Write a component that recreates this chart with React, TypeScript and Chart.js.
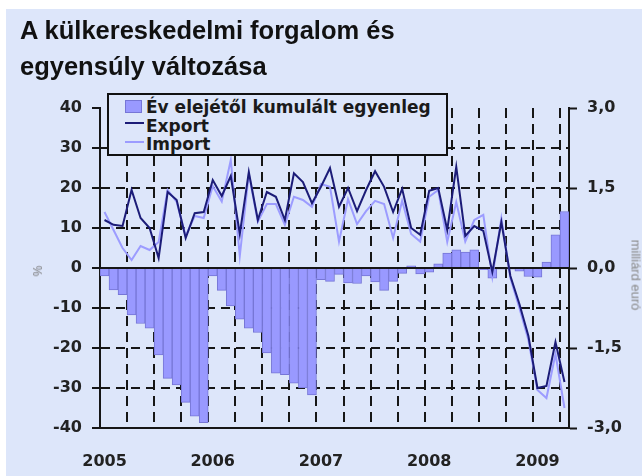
import React, { useEffect, useRef } from 'react';
import { Chart, registerables } from 'chart.js';

Chart.register(...registerables);

const categories = [
  '2005.01', '2005.02', '2005.03', '2005.04', '2005.05', '2005.06', '2005.07', '2005.08', '2005.09', '2005.10', '2005.11', '2005.12',
  '2006.01', '2006.02', '2006.03', '2006.04', '2006.05', '2006.06', '2006.07', '2006.08', '2006.09', '2006.10', '2006.11', '2006.12',
  '2007.01', '2007.02', '2007.03', '2007.04', '2007.05', '2007.06', '2007.07', '2007.08', '2007.09', '2007.10', '2007.11', '2007.12',
  '2008.01', '2008.02', '2008.03', '2008.04', '2008.05', '2008.06', '2008.07', '2008.08', '2008.09', '2008.10', '2008.11', '2008.12',
  '2009.01', '2009.02', '2009.03', '2009.04',
];

const yearTicks = ['2005', '2006', '2007', '2008', '2009'];

// cumulative balance since start of year, billion EUR (right axis)
const balance = [
  -0.15, -0.41, -0.5, -0.88, -1.04, -1.13, -1.63, -2.07, -2.19, -2.52, -2.78, -2.9,
  -0.15, -0.42, -0.71, -0.96, -1.13, -1.21, -1.59, -1.97, -2.0, -2.16, -2.25, -2.38,
  -0.22, -0.25, -0.12, -0.28, -0.29, -0.15, -0.26, -0.42, -0.25, -0.1, 0.04, -0.11,
  -0.08, 0.08, 0.28, 0.34, 0.3, 0.34, -0.03, -0.19, -0.02, -0.02, -0.06, -0.16,
  -0.17, 0.11, 0.62, 1.06,
];

// export change, % (left axis)
const exportChange = [
  12, 10.8, 10.5, 19.5, 12.5, 10, 2.5, 19, 17, 7.5, 13.7, 14,
  22, 18, 23, 8.5, 24, 12, 19, 17.8, 12, 23.7, 21.5, 16.2,
  20.3, 25, 15.3, 20, 14.2, 19.5, 24.2, 20.3, 14, 19.8, 10, 8.3,
  19.3, 20, 9.5, 25.3, 8, 10.5, 9.3, -1, 11.5, -2, -9, -17,
  -30, -29.5, -18.5, -28.5,
];

// import change, % (left axis)
const importChange = [
  14, 9.5, 5, 2, 5.5, 4.5, 6.5, 19.5, 16.5, 8, 13, 12.5,
  20.5, 16.6, 27, 3, 23.5, 11.6, 16, 16, 10.8, 17.8, 17, 15.3,
  21, 20.3, 6.6, 17.2, 11, 14.2, 16.8, 16, 7.5, 16.8, 8.5, 6.6,
  17.8, 19.5, 6.5, 16.5, 6.6, 12, 13.3, -2.2, 12.4, -2.5, -10, -18,
  -30.5, -32.5, -21.5, -35,
];

const BG = '#dde6fa';
const BAR = '#9999ff';
const BAR_EDGE = '#7676d6';
const EXPORT_C = '#1c1c78';
const IMPORT_C = '#9c9cff';
const INK = '#161616';
const tickFont = { family: '"DejaVu Sans", sans-serif', weight: 'bold' as const, size: 16 };

const zeroLinePlugin = {
  id: 'zeroLine',
  afterDatasetDraw(chart: any, args: any) {
    if (args.index !== 0) return;
    const ctx = chart.ctx;
    const y = chart.scales.y.getPixelForValue(0);
    const { left, right } = chart.chartArea;
    ctx.save();
    ctx.strokeStyle = INK;
    ctx.lineWidth = 2;
    ctx.setLineDash([]);
    ctx.beginPath();
    ctx.moveTo(left, y);
    ctx.lineTo(right, y);
    ctx.stroke();
    ctx.restore();
  },
};

export default function App() {
  const ref = useRef<HTMLCanvasElement | null>(null);

  useEffect(() => {
    if (!ref.current) return;
    const chart = new Chart(ref.current, {
      data: {
        labels: categories,
        datasets: [
          {
            type: 'bar',
            label: 'Év elejétől kumulált egyenleg',
            data: balance,
            yAxisID: 'y2',
            backgroundColor: BAR,
            borderColor: BAR_EDGE,
            borderWidth: 1,
            barPercentage: 1,
            categoryPercentage: 1,
            order: 3,
          },
          {
            type: 'line',
            label: 'Export',
            data: exportChange,
            yAxisID: 'y',
            borderColor: EXPORT_C,
            borderWidth: 2,
            pointRadius: 0,
            tension: 0,
            order: 1,
          },
          {
            type: 'line',
            label: 'Import',
            data: importChange,
            yAxisID: 'y',
            borderColor: IMPORT_C,
            borderWidth: 2,
            pointRadius: 0,
            tension: 0,
            order: 2,
          },
        ],
      } as any,
      options: {
        responsive: false,
        animation: false,
        devicePixelRatio: 1,
        layout: { padding: { top: 108, bottom: 0, left: 0, right: 0 } },
        plugins: { legend: { display: false }, tooltip: { enabled: false } },
        scales: {
          x: {
            type: 'category',
            offset: true,
            grid: {
              offset: true,
              drawTicks: false,
              lineWidth: 2,
              color: (c: any) =>
                c.type === 'tick' && c.index > 0 && c.index % 3 === 0 ? INK : 'rgba(0,0,0,0)',
            },
            border: { display: true, color: INK, width: 2, dash: [10, 6] },
            ticks: {
              autoSkip: false,
              maxRotation: 0,
              minRotation: 0,
              padding: 24,
              color: '#222',
              font: tickFont,
              callback: (_v: any, i: number) => (i % 12 === 0 ? yearTicks[i / 12] : ''),
            },
            afterFit: (s: any) => {
              s.height = 48;
            },
          },
          y: {
            position: 'left',
            min: -40,
            max: 40,
            ticks: { stepSize: 10, padding: 10, color: '#222', font: tickFont },
            grid: {
              lineWidth: 2,
              tickLength: 8,
              tickWidth: 2,
              tickColor: INK,
              color: (c: any) => {
                const v = c.tick ? c.tick.value : null;
                return v === 40 || v === -40 || v === 0 ? 'rgba(0,0,0,0)' : INK;
              },
            },
            border: { display: true, color: INK, width: 2, dash: [9, 6] },
            afterFit: (s: any) => {
              s.width = 100;
            },
          },
          y2: {
            position: 'right',
            min: -3,
            max: 3,
            ticks: {
              stepSize: 1.5,
              padding: 10,
              color: '#222',
              font: tickFont,
              callback: (v: any) => Number(v).toFixed(1).replace('.', ','),
            },
            grid: {
              drawOnChartArea: false,
              tickLength: 8,
              tickWidth: 2,
              tickColor: INK,
              color: INK,
            },
            border: { display: true, color: INK, width: 2 },
            afterFit: (s: any) => {
              s.width = 73;
            },
          },
        },
      } as any,
      plugins: [zeroLinePlugin],
    });
    return () => chart.destroy();
  }, []);

  const legendText: React.CSSProperties = {
    position: 'absolute',
    left: 37,
    font: 'bold 17px "DejaVu Sans", sans-serif',
    lineHeight: '19px',
    color: '#1a1a1a',
    whiteSpace: 'nowrap',
  };

  return (
    <div style={{ position: 'absolute', left: 0, top: 0, width: 642, height: 476, background: '#fff', overflow: 'hidden' }}>
      <div style={{ position: 'absolute', left: 6, top: 9, right: 0, bottom: 0, background: BG }} />
      <canvas ref={ref} width={642} height={476} style={{ position: 'absolute', left: 0, top: 0 }} />
      <div
        style={{
          position: 'absolute',
          left: 20,
          top: 12,
          font: 'bold 25.5px "Liberation Sans", Arial, sans-serif',
          lineHeight: '36px',
          color: '#111',
          whiteSpace: 'nowrap',
        }}
      >
        A külkereskedelmi forgalom és
        <br />
        egyensúly változása
      </div>
      <div
        style={{
          position: 'absolute',
          left: 107,
          top: 93,
          width: 341,
          height: 63,
          boxSizing: 'border-box',
          border: '2px solid #111',
          background: BG,
        }}
      >
        <div style={{ position: 'absolute', left: 16, top: 5, width: 17, height: 13, boxSizing: 'border-box', background: BAR, border: `1px solid ${BAR_EDGE}` }} />
        <div style={{ ...legendText, top: 3 }}>Év elejétől kumulált egyenleg</div>
        <div style={{ position: 'absolute', left: 16, top: 27, width: 19, height: 2, background: EXPORT_C }} />
        <div style={{ ...legendText, top: 22 }}>Export</div>
        <div style={{ position: 'absolute', left: 16, top: 45.5, width: 19, height: 2, background: IMPORT_C }} />
        <div style={{ ...legendText, top: 40 }}>Import</div>
      </div>
      <div
        style={{
          position: 'absolute',
          left: 38,
          top: 271,
          transform: 'translate(-50%, -50%) rotate(-90deg)',
          font: '12px "Liberation Sans", Arial, sans-serif',
          color: '#777',
          whiteSpace: 'nowrap',
        }}
      >
        %
      </div>
      <div
        style={{
          position: 'absolute',
          left: 636,
          top: 275,
          transform: 'translate(-50%, -50%) rotate(90deg)',
          font: '13px "Liberation Sans", Arial, sans-serif',
          color: '#888',
          whiteSpace: 'nowrap',
        }}
      >
        milliárd euró
      </div>
    </div>
  );
}
